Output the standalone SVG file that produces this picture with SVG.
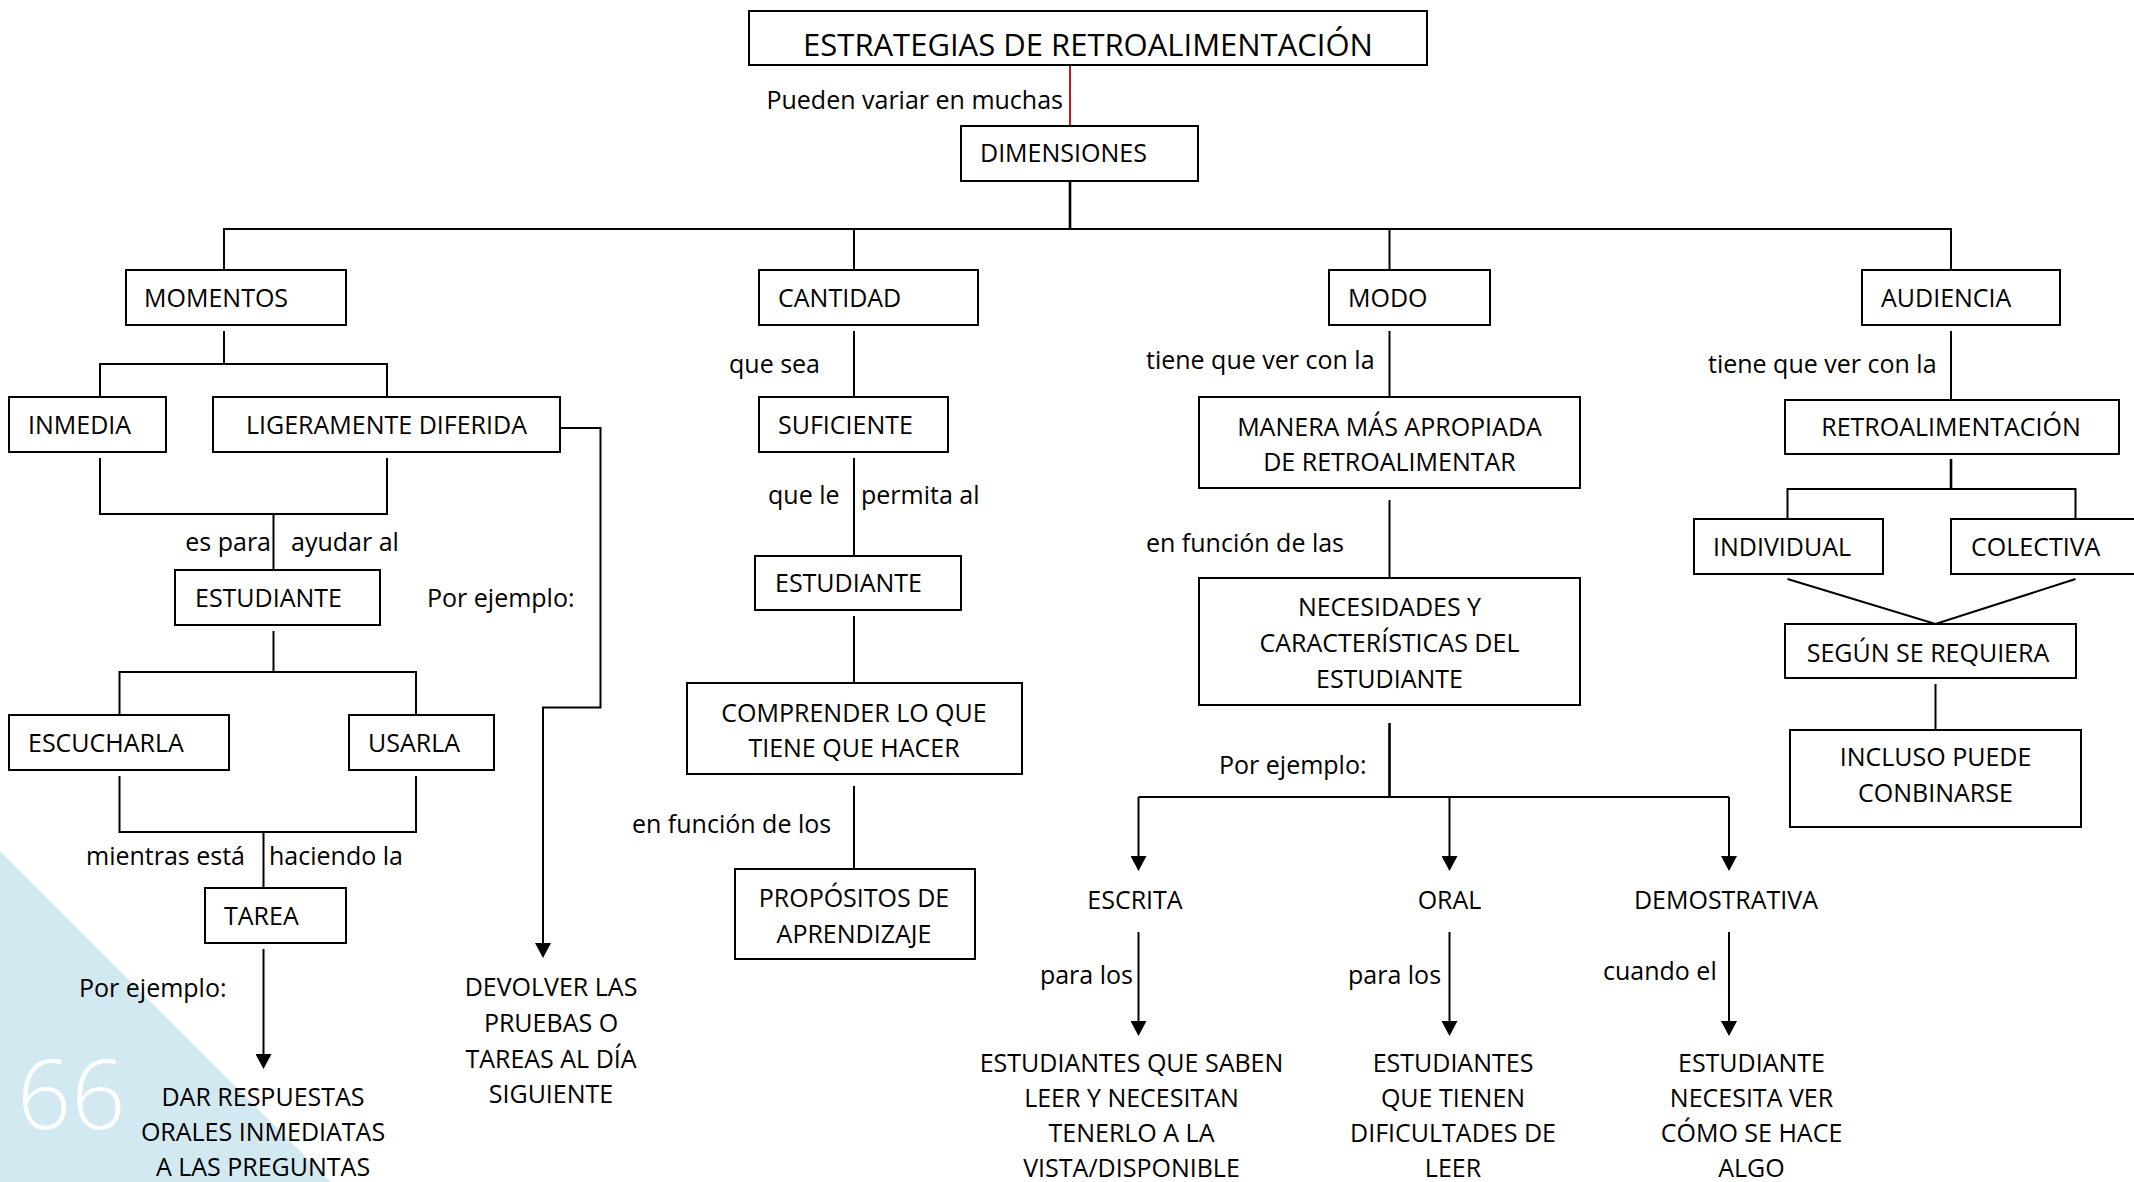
<svg xmlns="http://www.w3.org/2000/svg" width="2134" height="1182" viewBox="0 0 2134 1182">
  <style>
    text { font-family: "Open Sans", "Noto Sans", "DejaVu Sans", sans-serif; font-size: 25px; fill: #000; }
    .c { text-anchor: middle; }
    .e { text-anchor: end; }
    .title { font-size: 31px; }
    .box { fill: #fff; stroke: #000; stroke-width: 2; }
    .ln { fill: none; stroke: #000; stroke-width: 2; }
    .thick { stroke-width: 2.6; }
    .red { fill: none; stroke: #c00000; stroke-width: 1.8; }
    .page { font-family: "Open Sans", "Noto Sans", sans-serif; font-size: 95px; font-weight: 300; fill: #fff; }
  </style>
  <defs>
    <marker id="arrow" viewBox="0 0 15 16" refX="0" refY="8" markerWidth="15" markerHeight="16" markerUnits="userSpaceOnUse" orient="auto">
      <path d="M0,0 L15,8 L0,16 Z" fill="#000"/>
    </marker>
  </defs>

  <rect width="2134" height="1182" fill="#fff"/>

  <!-- page corner decoration with page number -->
  <polygon points="0,851 331,1182 0,1182" fill="#d2e9f1"/>
  <text class="page" x="17" y="1129">66</text>

  <!-- connectors -->
  <g id="connectors">
    <path class="red" d="M1070,65 V126"/>
    <path class="ln thick" d="M1070,181 V229"/>
    <path class="ln" d="M224,270 V229 H1951 V270"/>
    <path class="ln" d="M854,229 V270"/>
    <path class="ln" d="M1389.5,229 V270"/>

    <!-- MOMENTOS branch -->
    <path class="ln" d="M224,331 V364"/>
    <path class="ln" d="M100,397 V364 H387 V397"/>
    <path class="ln" d="M100,458 V514 H387 V458"/>
    <path class="ln" d="M273.5,514 V570"/>
    <path class="ln" d="M560,428 H600.5 V707.5 H543 V943" marker-end="url(#arrow)"/>
    <path class="ln" d="M273.5,631 V672"/>
    <path class="ln" d="M119.5,715 V672 H416 V715"/>
    <path class="ln" d="M119.5,776 V832 H416 V776"/>
    <path class="ln" d="M263.5,832 V888"/>
    <path class="ln" d="M263.5,949 V1054" marker-end="url(#arrow)"/>

    <!-- CANTIDAD branch -->
    <path class="ln" d="M854,331 V397"/>
    <path class="ln" d="M854,458 V556"/>
    <path class="ln" d="M854,616 V683"/>
    <path class="ln" d="M854,786 V869"/>

    <!-- MODO branch -->
    <path class="ln" d="M1389.5,331 V397"/>
    <path class="ln" d="M1389.5,500 V578"/>
    <path class="ln thick" d="M1389.5,723 V797"/>
    <path class="ln" d="M1138.5,797 H1729"/>
    <path class="ln" d="M1138.5,797 V856" marker-end="url(#arrow)"/>
    <path class="ln" d="M1449.5,797 V856" marker-end="url(#arrow)"/>
    <path class="ln" d="M1729,797 V856" marker-end="url(#arrow)"/>
    <path class="ln" d="M1138.5,932 V1021" marker-end="url(#arrow)"/>
    <path class="ln" d="M1449.5,932 V1021" marker-end="url(#arrow)"/>
    <path class="ln" d="M1729,932 V1021" marker-end="url(#arrow)"/>

    <!-- AUDIENCIA branch -->
    <path class="ln" d="M1951,331 V400"/>
    <path class="ln thick" d="M1951,459 V489"/>
    <path class="ln" d="M1787.5,519 V489 H2075.5 V519"/>
    <path class="ln" d="M1787.5,579 L1935.5,624 L2075.5,579"/>
    <path class="ln" d="M1935.5,684 V730"/>
  </g>

  <!-- connector labels -->
  <g id="labels">
    <text class="e" x="1063" y="109">Pueden variar en muchas</text>
    <text class="e" x="271" y="551">es para</text>
    <text x="291" y="551">ayudar al</text>
    <text x="427" y="607">Por ejemplo:</text>
    <text x="86" y="865">mientras está</text>
    <text x="269" y="865">haciendo la</text>
    <text x="79" y="997">Por ejemplo:</text>
    <text x="729" y="373">que sea</text>
    <text x="768" y="504">que le</text>
    <text x="861" y="504">permita al</text>
    <text x="632" y="833">en función de los</text>
    <text x="1146" y="369">tiene que ver con la</text>
    <text x="1146" y="552">en función de las</text>
    <text x="1219" y="774">Por ejemplo:</text>
    <text class="e" x="1133" y="984">para los</text>
    <text x="1348" y="984">para los</text>
    <text x="1603" y="980">cuando el</text>
    <text x="1708" y="373">tiene que ver con la</text>
  </g>

  <!-- nodes -->
  <g id="n-title">
    <rect class="box" x="749" y="11" width="678" height="54"/>
    <text class="title c" x="1088" y="56">ESTRATEGIAS DE RETROALIMENTACIÓN</text>
  </g>
  <g id="n-dimensiones">
    <rect class="box" x="961" y="126" width="237" height="55"/>
    <text x="980" y="162">DIMENSIONES</text>
  </g>
  <g id="n-momentos">
    <rect class="box" x="126" y="270" width="220" height="55"/>
    <text x="144" y="307">MOMENTOS</text>
  </g>
  <g id="n-cantidad">
    <rect class="box" x="759" y="270" width="219" height="55"/>
    <text x="778" y="307">CANTIDAD</text>
  </g>
  <g id="n-modo">
    <rect class="box" x="1329" y="270" width="161" height="55"/>
    <text x="1348" y="307">MODO</text>
  </g>
  <g id="n-audiencia">
    <rect class="box" x="1862" y="270" width="198" height="55"/>
    <text x="1881" y="307">AUDIENCIA</text>
  </g>
  <g id="n-inmedia">
    <rect class="box" x="9" y="397" width="157" height="55"/>
    <text x="28" y="434">INMEDIA</text>
  </g>
  <g id="n-ligeramente">
    <rect class="box" x="213" y="397" width="347" height="55"/>
    <text class="c" x="386.5" y="434">LIGERAMENTE DIFERIDA</text>
  </g>
  <g id="n-suficiente">
    <rect class="box" x="759" y="397" width="189" height="55"/>
    <text x="778" y="434">SUFICIENTE</text>
  </g>
  <g id="n-manera">
    <rect class="box" x="1199" y="397" width="381" height="91"/>
    <text class="c" x="1389.5" y="436">MANERA MÁS APROPIADA</text>
    <text class="c" x="1389.5" y="471">DE RETROALIMENTAR</text>
  </g>
  <g id="n-retro">
    <rect class="box" x="1785" y="400" width="334" height="54"/>
    <text class="c" x="1951" y="436">RETROALIMENTACIÓN</text>
  </g>
  <g id="n-individual">
    <rect class="box" x="1694" y="519" width="189" height="55"/>
    <text x="1713" y="556">INDIVIDUAL</text>
  </g>
  <g id="n-colectiva">
    <rect class="box" x="1951" y="519" width="200" height="55"/>
    <text x="1971" y="556">COLECTIVA</text>
  </g>
  <g id="n-estudiante-1">
    <rect class="box" x="175" y="570" width="205" height="55"/>
    <text x="195" y="607">ESTUDIANTE</text>
  </g>
  <g id="n-estudiante-2">
    <rect class="box" x="755" y="556" width="206" height="54"/>
    <text x="775" y="592">ESTUDIANTE</text>
  </g>
  <g id="n-necesidades">
    <rect class="box" x="1199" y="578" width="381" height="127"/>
    <text class="c" x="1389.5" y="616">NECESIDADES Y</text>
    <text class="c" x="1389.5" y="652">CARACTERÍSTICAS DEL</text>
    <text class="c" x="1389.5" y="688">ESTUDIANTE</text>
  </g>
  <g id="n-segun">
    <rect class="box" x="1785" y="624" width="291" height="54"/>
    <text class="c" x="1928" y="662">SEGÚN SE REQUIERA</text>
  </g>
  <g id="n-escucharla">
    <rect class="box" x="9" y="715" width="220" height="55"/>
    <text x="28" y="752">ESCUCHARLA</text>
  </g>
  <g id="n-usarla">
    <rect class="box" x="349" y="715" width="145" height="55"/>
    <text x="368" y="752">USARLA</text>
  </g>
  <g id="n-comprender">
    <rect class="box" x="687" y="683" width="335" height="91"/>
    <text class="c" x="854" y="722">COMPRENDER LO QUE</text>
    <text class="c" x="854" y="757">TIENE QUE HACER</text>
  </g>
  <g id="n-incluso">
    <rect class="box" x="1790" y="730" width="291" height="97"/>
    <text class="c" x="1935.5" y="766">INCLUSO PUEDE</text>
    <text class="c" x="1935.5" y="802">CONBINARSE</text>
  </g>
  <g id="n-tarea">
    <rect class="box" x="205" y="888" width="141" height="55"/>
    <text x="224" y="925">TAREA</text>
  </g>
  <g id="n-propositos">
    <rect class="box" x="735" y="869" width="240" height="90"/>
    <text class="c" x="854" y="907">PROPÓSITOS DE</text>
    <text class="c" x="854" y="943">APRENDIZAJE</text>
  </g>
  <g id="n-escrita">
    <text class="c" x="1135" y="909">ESCRITA</text>
  </g>
  <g id="n-oral">
    <text class="c" x="1449.5" y="909">ORAL</text>
  </g>
  <g id="n-demostrativa">
    <text class="c" x="1726" y="909">DEMOSTRATIVA</text>
  </g>
  <g id="n-dar-respuestas">
    <text class="c" x="263" y="1106">DAR RESPUESTAS</text>
    <text class="c" x="263" y="1141">ORALES INMEDIATAS</text>
    <text class="c" x="263" y="1176">A LAS PREGUNTAS</text>
  </g>
  <g id="n-devolver">
    <text class="c" x="551" y="996">DEVOLVER LAS</text>
    <text class="c" x="551" y="1032">PRUEBAS O</text>
    <text class="c" x="551" y="1068">TAREAS AL DÍA</text>
    <text class="c" x="551" y="1103">SIGUIENTE</text>
  </g>
  <g id="n-escrita-quien">
    <text class="c" x="1131.5" y="1072">ESTUDIANTES QUE SABEN</text>
    <text class="c" x="1131.5" y="1107">LEER Y NECESITAN</text>
    <text class="c" x="1131.5" y="1142">TENERLO A LA</text>
    <text class="c" x="1131.5" y="1177">VISTA/DISPONIBLE</text>
  </g>
  <g id="n-oral-quien">
    <text class="c" x="1453" y="1072">ESTUDIANTES</text>
    <text class="c" x="1453" y="1107">QUE TIENEN</text>
    <text class="c" x="1453" y="1142">DIFICULTADES DE</text>
    <text class="c" x="1453" y="1177">LEER</text>
  </g>
  <g id="n-demo-quien">
    <text class="c" x="1751.5" y="1072">ESTUDIANTE</text>
    <text class="c" x="1751.5" y="1107">NECESITA VER</text>
    <text class="c" x="1751.5" y="1142">CÓMO SE HACE</text>
    <text class="c" x="1751.5" y="1177">ALGO</text>
  </g>
</svg>
